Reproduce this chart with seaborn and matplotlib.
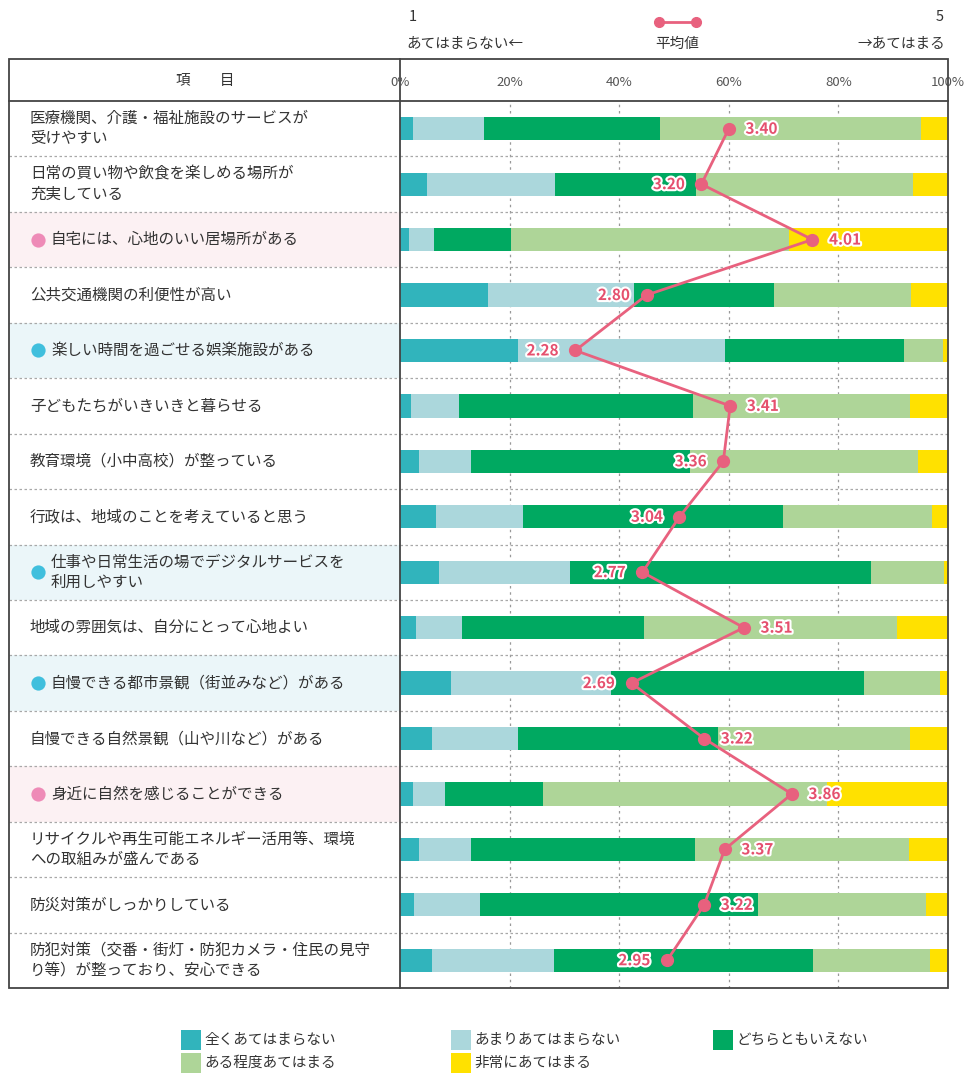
import matplotlib
matplotlib.use("Agg")
import matplotlib.pyplot as plt
import matplotlib.patheffects as pe
from matplotlib.lines import Line2D
from matplotlib.patches import Rectangle
import seaborn as sns
import numpy as np

plt.rcParams['font.family'] = ['Noto Sans CJK JP', 'DejaVu Sans']

# Data
items = [
    "医療機関、介護・福祉施設のサービスが\n受けやすい",
    "日常の買い物や飲食を楽しめる場所が\n充実している",
    "自宅には、心地のいい居場所がある",
    "公共交通機関の利便性が高い",
    "楽しい時間を過ごせる娯楽施設がある",
    "子どもたちがいきいきと暮らせる",
    "教育環境（小中高校）が整っている",
    "行政は、地域のことを考えていると思う",
    "仕事や日常生活の場でデジタルサービスを\n利用しやすい",
    "地域の雰囲気は、自分にとって心地よい",
    "自慢できる都市景観（街並みなど）がある",
    "自慢できる自然景観（山や川など）がある",
    "身近に自然を感じることができる",
    "リサイクルや再生可能エネルギー活用等、環境\nへの取組みが盛んである",
    "防災対策がしっかりしている",
    "防犯対策（交番・街灯・防犯カメラ・住民の見守\nり等）が整っており、安心できる",
]
bullets = [None, None, "pink", None, "cyan", None, None, None, "cyan",
           None, "cyan", None, "pink", None, None, None]

not_at_all = [2.4, 4.9, 1.6, 16.1, 21.6, 2.0, 3.4, 6.6, 7.1, 2.9, 9.3, 5.8, 2.4, 3.4, 2.6, 5.8]
not_really = [12.9, 23.4, 4.6, 26.6, 37.7, 8.7, 9.6, 15.8, 23.9, 8.4, 29.2, 15.8, 5.8, 9.6, 12.0, 22.3]
neutral = [32.2, 25.8, 14.1, 25.6, 32.6, 42.8, 40.0, 47.5, 55.0, 33.2, 46.2, 36.4, 17.9, 40.9, 50.8, 47.2]
somewhat = [47.6, 39.6, 50.6, 25.0, 7.1, 39.6, 41.6, 27.2, 13.3, 46.2, 13.9, 35.1, 51.9, 38.9, 30.5, 21.5]
very = [4.9, 6.3, 29.1, 6.7, 1.0, 6.9, 5.4, 2.9, 0.7, 9.3, 1.4, 6.9, 22.0, 7.2, 4.1, 3.2]

means = [3.40, 3.20, 4.01, 2.80, 2.28, 3.41, 3.36, 3.04, 2.77, 3.51, 2.69, 3.22, 3.86, 3.37, 3.22, 2.95]
label_side = ["r", "l", "r", "l", "l", "r", "l", "l", "l", "r", "l", "r", "r", "r", "r", "l"]

legend_labels = ["全くあてはまらない", "あまりあてはまらない", "どちらともいえない",
                 "ある程度あてはまる", "非常にあてはまる"]
colors = ["#31B4BC", "#ABD7DC", "#00A961", "#AED598", "#FFE100"]
line_color = "#E8617E"
text_color = "#333333"
bg_colors = {"pink": "#FCF1F3", "cyan": "#EBF6F9"}
dot_colors = {"pink": "#EE8BB7", "cyan": "#40BFDD"}

W, H = 970, 1074
fig = plt.figure(figsize=(W / 100, H / 100), dpi=100)


def fx(x):
    return x / W


def fy(y):
    return 1 - y / H


top_y, head_y, bot_y = 59, 101, 988
left_x, mid_x, right_x = 9, 400, 948

# left table column
axl = fig.add_axes([fx(left_x), fy(bot_y), fx(mid_x) - fx(left_x), fy(head_y) - fy(bot_y)])
axl.set_xlim(0, mid_x - left_x)
axl.set_ylim(15.5, -0.5)
axl.axis("off")
n = len(items)
for i, (txt, b) in enumerate(zip(items, bullets)):
    if b is not None:
        axl.axhspan(i - 0.5, i + 0.5, color=bg_colors[b], lw=0, zorder=0)
        axl.scatter([29], [i], s=105, color=dot_colors[b], zorder=3, lw=0)
        tx = 42
    else:
        tx = 21
    axl.text(tx, i, txt, fontsize=11.2, color=text_color, va="center", ha="left",
             linespacing=1.25)
    if i < n - 1:
        axl.axhline(i + 0.5, color="#a8a8a8", lw=0.9, ls=(0, (2, 2)), zorder=1)

# stacked bars
ax = fig.add_axes([fx(mid_x), fy(bot_y), fx(right_x) - fx(mid_x), fy(head_y) - fy(bot_y)])
segments = np.array([not_at_all, not_really, neutral, somewhat, very])
cum = np.cumsum(segments, axis=0)
for k in range(4, -1, -1):
    sns.barplot(x=cum[k], y=items, color=colors[k], saturation=1, width=0.42,
                orient="h", errorbar=None, linewidth=0, ax=ax, zorder=2)
for g in [20, 40, 60, 80]:
    ax.axvline(g, color="#999999", lw=0.9, ls=(0, (2, 3)), zorder=1)
for i in range(n - 1):
    ax.axhline(i + 0.5, color="#a8a8a8", lw=0.9, ls=(0, (2, 2)), zorder=1)
ax.set_xlim(0, 100)
ax.set_ylim(15.5, -0.5)
ax.set_xticks([])
ax.set_yticks([])
ax.set_xlabel("")
ax.set_ylabel("")
for s in ax.spines.values():
    s.set_visible(False)
ax.patch.set_alpha(0)

# mean line
mx = [(m - 1) / 4 * 100 for m in means]
ax.plot(mx, range(n), color=line_color, lw=2, marker="o", ms=8.5, zorder=5)
for i, (x, m, side) in enumerate(zip(mx, means, label_side)):
    off = 12 if side == "r" else -12
    ax.annotate(f"{m:.2f}", (x, i), xytext=(off, 0), textcoords="offset points",
                ha="left" if side == "r" else "right", va="center",
                fontsize=11, fontweight="bold", color="#E5506E", zorder=6,
                path_effects=[pe.withStroke(linewidth=3, foreground="white")])

# frame and header
fig.add_artist(Rectangle((fx(left_x), fy(bot_y)), fx(right_x) - fx(left_x), fy(top_y) - fy(bot_y),
                         fill=False, ec="#444444", lw=1.3, transform=fig.transFigure, zorder=10))
fig.add_artist(Line2D([fx(left_x), fx(right_x)], [fy(head_y)] * 2, color="#444444", lw=1.3))
fig.add_artist(Line2D([fx(mid_x)] * 2, [fy(top_y), fy(bot_y)], color="#444444", lw=1.3))
fig.text(fx(205), fy(81), "項　　目", fontsize=10.5, color=text_color, ha="center", va="center")
for p in [0, 20, 40, 60, 80, 100]:
    xp = mid_x + (right_x - mid_x) * p / 100
    fig.text(fx(xp), fy(82), f"{p}%", fontsize=9.5, color="#555555", ha="center", va="center")

# top scale labels
fig.text(fx(413), fy(17), "1", fontsize=10.5, color=text_color, ha="center", va="center")
fig.text(fx(940), fy(17), "5", fontsize=10.5, color=text_color, ha="center", va="center")
fig.text(fx(406), fy(44), "あてはまらない←", fontsize=10.5, color=text_color, ha="left", va="center")
fig.text(fx(945), fy(44), "→あてはまる", fontsize=10.5, color=text_color, ha="right", va="center")
fig.text(fx(677), fy(44), "平均値", fontsize=10.5, color=text_color, ha="center", va="center")
fig.add_artist(Line2D([fx(659), fx(696)], [fy(22)] * 2, color=line_color, lw=2,
                      marker="o", ms=7))

# bottom legend
leg_pos = [(181, 1040), (451, 1040), (713, 1040), (181, 1063), (451, 1063)]
for (lx, ly), lab, c in zip(leg_pos, legend_labels, colors):
    fig.add_artist(Rectangle((fx(lx), fy(ly + 10)), 20 / W, 20 / H, color=c,
                             transform=fig.transFigure, lw=0))
    fig.text(fx(lx + 23), fy(ly), lab, fontsize=10.5, color=text_color, ha="left", va="center")

fig.savefig("out.png", dpi=100)
